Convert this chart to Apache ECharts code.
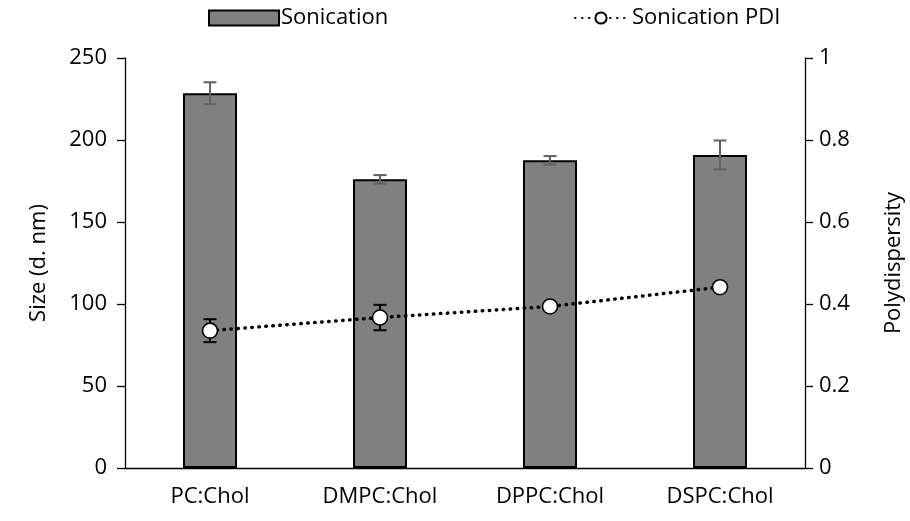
<!DOCTYPE html>
<html>
<head>
<meta charset="utf-8">
<script src="https://cdn.jsdelivr.net/npm/echarts@6/dist/echarts.min.js"></script>
<style>
  html, body { margin: 0; padding: 0; background: #fff; }
  #chart { width: 910px; height: 521px; }
</style>
</head>
<body>
<div id="chart"></div>
<script>
// Liposome formulations
const categories = ['PC:Chol', 'DMPC:Chol', 'DPPC:Chol', 'DSPC:Chol'];

// Vesicle size after sonication (d. nm) and its standard deviation
const sizeValues = [228.5, 176.0, 187.6, 190.9];
const sizeErrors = [6.7, 2.6, 2.6, 8.8];

// Polydispersity index after sonication and its standard deviation
const pdiValues = [0.335, 0.367, 0.394, 0.441];
const pdiErrors = [0.028, 0.031, 0, 0];

// Axis ticks
const sizeTicks = { min: 0, max: 250, interval: 50 };
const pdiTicks = { min: 0, max: 1, interval: 0.2 };

const FONT = 'Open Sans';
const FS = 22;
const TEXT = '#000';

function errorSeries(name, values, errors, yAxisIndex, color, z) {
  return {
    name: name,
    type: 'custom',
    yAxisIndex: yAxisIndex,
    z: z,
    silent: true,
    data: values.map((v, i) => [i, v - errors[i], v + errors[i]]),
    renderItem: function (params, api) {
      const x = api.value(0);
      const lo = api.coord([x, api.value(1)]);
      const hi = api.coord([x, api.value(2)]);
      if (Math.abs(hi[1] - lo[1]) < 0.5) return null;
      const half = 6.5;
      const style = { stroke: color, lineWidth: 2, fill: null };
      return {
        type: 'group',
        children: [
          { type: 'line', shape: { x1: lo[0], y1: lo[1], x2: hi[0], y2: hi[1] }, style: style },
          { type: 'line', shape: { x1: hi[0] - half, y1: hi[1], x2: hi[0] + half, y2: hi[1] }, style: style },
          { type: 'line', shape: { x1: lo[0] - half, y1: lo[1], x2: lo[0] + half, y2: lo[1] }, style: style }
        ]
      };
    }
  };
}

const chart = echarts.init(document.getElementById('chart'), null, { renderer: 'canvas' });

chart.setOption({
  animation: false,
  backgroundColor: '#fff',
  textStyle: { fontFamily: FONT, color: TEXT },
  grid: { left: 125, right: 105, top: 58, bottom: 53, containLabel: false, outerBoundsMode: 'none' },
  legend: [
    {
      data: [{ name: 'Sonication', icon: 'rect' }],
      left: 203, top: 2,
      itemWidth: 70, itemHeight: 15, itemGap: 4,
      textStyle: { fontFamily: FONT, fontSize: FS, color: TEXT, padding: [0, 0, 0, -3] },
      selectedMode: false
    },
    {
      data: ['Sonication PDI'],
      left: 569, top: 2,
      itemWidth: 52, itemHeight: 14,
      textStyle: { fontFamily: FONT, fontSize: FS, color: TEXT },
      selectedMode: false
    }
  ],
  xAxis: {
    type: 'category',
    data: categories,
    axisLine: { show: true, lineStyle: { color: '#000', width: 1.3 } },
    axisTick: { show: false },
    axisLabel: { fontFamily: FONT, fontSize: FS, color: TEXT, margin: 18 }
  },
  yAxis: [
    {
      type: 'value',
      min: sizeTicks.min, max: sizeTicks.max, interval: sizeTicks.interval,
      name: 'Size (d. nm)',
      nameLocation: 'middle',
      nameGap: 75,
      nameTextStyle: { fontFamily: FONT, fontSize: FS, color: TEXT },
      axisLine: { show: true, lineStyle: { color: '#000', width: 1.3 } },
      axisTick: { show: true, length: 8, lineStyle: { color: '#000', width: 1.3 } },
      axisLabel: { fontFamily: FONT, fontSize: FS, color: TEXT, margin: 18 },
      splitLine: { show: false }
    },
    {
      type: 'value',
      position: 'right',
      min: pdiTicks.min, max: pdiTicks.max, interval: pdiTicks.interval,
      name: 'Polydispersity',
      nameLocation: 'middle',
      nameGap: 78,
      nameRotate: 90,
      nameTextStyle: { fontFamily: FONT, fontSize: FS, color: TEXT },
      axisLine: { show: true, lineStyle: { color: '#000', width: 1.3 } },
      axisTick: { show: true, length: 8, lineStyle: { color: '#000', width: 1.3 } },
      axisLabel: { fontFamily: FONT, fontSize: FS, color: TEXT, margin: 14 },
      splitLine: { show: false }
    }
  ],
  series: [
    {
      name: 'Sonication',
      type: 'bar',
      yAxisIndex: 0,
      data: sizeValues,
      barWidth: 54,
      z: 2,
      itemStyle: { color: '#808080', borderColor: '#000', borderWidth: 2 }
    },
    errorSeries('Size error', sizeValues, sizeErrors, 0, '#606060', 3),
    errorSeries('PDI error', pdiValues, pdiErrors, 1, '#000', 4),
    {
      name: 'Sonication PDI',
      type: 'line',
      yAxisIndex: 1,
      data: pdiValues,
      z: 5,
      symbol: 'circle',
      symbolSize: 15,
      showAllSymbol: true,
      lineStyle: { color: '#000', width: 3.5, type: [0.5, 6.5], cap: 'round' },
      itemStyle: { color: '#fff', borderColor: '#000', borderWidth: 1.6 }
    }
  ]
});
</script>
</body>
</html>
